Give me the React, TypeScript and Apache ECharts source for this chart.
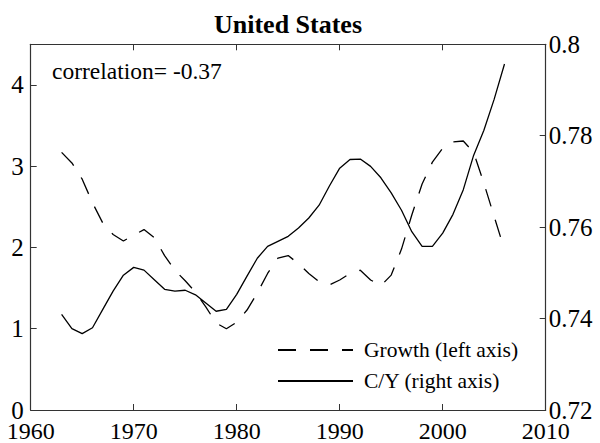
import React, { useEffect, useRef } from "react";
import * as echarts from "echarts";

const years = [
  1963, 1964, 1965, 1966, 1967, 1968, 1969, 1970, 1971, 1972, 1973, 1974, 1975,
  1976, 1977, 1978, 1979, 1980, 1981, 1982, 1983, 1984, 1985, 1986, 1987, 1988,
  1989, 1990, 1991, 1992, 1993, 1994, 1995, 1996, 1997, 1998, 1999, 2000, 2001,
  2002, 2003, 2004, 2005, 2006,
];

const growth = [
  3.17, 3.04, 2.84, 2.55, 2.3, 2.16, 2.08, 2.15, 2.22, 2.12, 1.9, 1.72, 1.59,
  1.45, 1.27, 1.07, 1.0, 1.08, 1.23, 1.44, 1.68, 1.87, 1.9, 1.8, 1.68, 1.58,
  1.54, 1.6, 1.68, 1.72, 1.6, 1.53, 1.66, 1.98, 2.4, 2.78, 3.05, 3.22, 3.3,
  3.31, 3.17, 2.79, 2.38, 1.97,
];

const cy = [
  0.7409, 0.7378, 0.7367, 0.738, 0.742, 0.746, 0.7495, 0.7512, 0.7506, 0.7485,
  0.7464, 0.746, 0.7462, 0.7452, 0.7434, 0.7416, 0.742, 0.7453, 0.7493, 0.7532,
  0.7558, 0.7569, 0.758, 0.7598, 0.762, 0.7648, 0.769, 0.7729, 0.7748, 0.7749,
  0.7733, 0.7708, 0.7675, 0.7637, 0.759, 0.7558, 0.7558, 0.7587, 0.7628,
  0.7682, 0.7757, 0.7812, 0.788, 0.7957,
];

const leftTicks = { min: 0, max: 4.5, interval: 1 };
const rightTicks = { min: 0.72, max: 0.8, interval: 0.02 };
const xTicks = { min: 1960, max: 2010, interval: 10 };

const seriesNames = ["Growth (left axis)", "C/Y (right axis)"];
const titleText = "United States";
const noteText = "correlation= -0.37";

const FONT = "Liberation Serif";
const AXIS_COLOR = "#333";

export default function App() {
  const ref = useRef<HTMLDivElement>(null);

  useEffect(() => {
    if (!ref.current) return;
    const chart = echarts.init(ref.current, undefined, { renderer: "svg" });
    const axisLine = { show: true, lineStyle: { color: AXIS_COLOR, width: 1.2 } };
    const axisTick = { show: true, inside: true, length: 6, lineStyle: { color: AXIS_COLOR, width: 1 } };
    const labelStyle = { color: "#000", fontFamily: FONT, fontSize: 25, lineHeight: 18 };

    chart.setOption({
      animation: false,
      backgroundColor: "#fff",
      textStyle: { fontFamily: FONT },
      title: {
        text: titleText,
        left: 288,
        textAlign: "center",
        top: 11,
        padding: 0,
        textStyle: { fontFamily: FONT, fontSize: 26, fontWeight: "bold", color: "#000" },
      },
      grid: { left: 30.7, right: 54.3, top: 44.3, bottom: 32.3, containLabel: false },
      xAxis: [
        {
          type: "value",
          position: "bottom",
          ...xTicks,
          axisLine,
          axisTick,
          splitLine: { show: false },
          axisLabel: { ...labelStyle, fontSize: 24, margin: 12, formatter: (v: number) => String(v) },
        },
        {
          type: "value",
          position: "top",
          ...xTicks,
          axisLine,
          axisTick,
          splitLine: { show: false },
          axisLabel: { show: false },
        },
      ],
      yAxis: [
        {
          type: "value",
          position: "left",
          ...leftTicks,
          axisLine,
          axisTick,
          splitLine: { show: false },
          axisLabel: {
            ...labelStyle,
            margin: 7,
            formatter: (v: number) => (Math.abs(v - Math.round(v)) < 1e-9 ? String(Math.round(v)) : ""),
          },
        },
        {
          type: "value",
          position: "right",
          ...rightTicks,
          axisLine,
          axisTick,
          splitLine: { show: false },
          axisLabel: { ...labelStyle, margin: 3, formatter: (v: number) => String(+v.toFixed(2)) },
        },
      ],
      legend: {
        orient: "vertical",
        left: 277,
        top: 339,
        itemWidth: 75,
        itemHeight: 14,
        itemGap: 9,
        padding: 0,
        data: seriesNames,
        itemStyle: { opacity: 0 },
        textStyle: { fontFamily: FONT, fontSize: 21.5, color: "#000", padding: [0, 0, 0, 6] },
      },
      graphic: [
        {
          type: "text",
          left: 52,
          top: 59,
          style: { text: noteText, fontFamily: FONT, fontSize: 23.5, fill: "#000" },
        },
      ],
      series: [
        {
          name: seriesNames[0],
          type: "line",
          xAxisIndex: 0,
          yAxisIndex: 0,
          data: years.map((y, i) => [y, growth[i]]),
          symbol: "none",
          showSymbol: false,
          lineStyle: { color: "#000", width: 1.3, type: [18, 14] },
          itemStyle: { color: "#000" },
        },
        {
          name: seriesNames[1],
          type: "line",
          xAxisIndex: 0,
          yAxisIndex: 1,
          data: years.map((y, i) => [y, cy[i]]),
          symbol: "none",
          showSymbol: false,
          lineStyle: { color: "#000", width: 1.3, type: "solid" },
          itemStyle: { color: "#000" },
        },
      ],
    });

    return () => chart.dispose();
  }, []);

  return (
    <div
      ref={ref}
      style={{ position: "fixed", left: 0, top: 0, width: 600, height: 443, background: "#fff" }}
    />
  );
}
